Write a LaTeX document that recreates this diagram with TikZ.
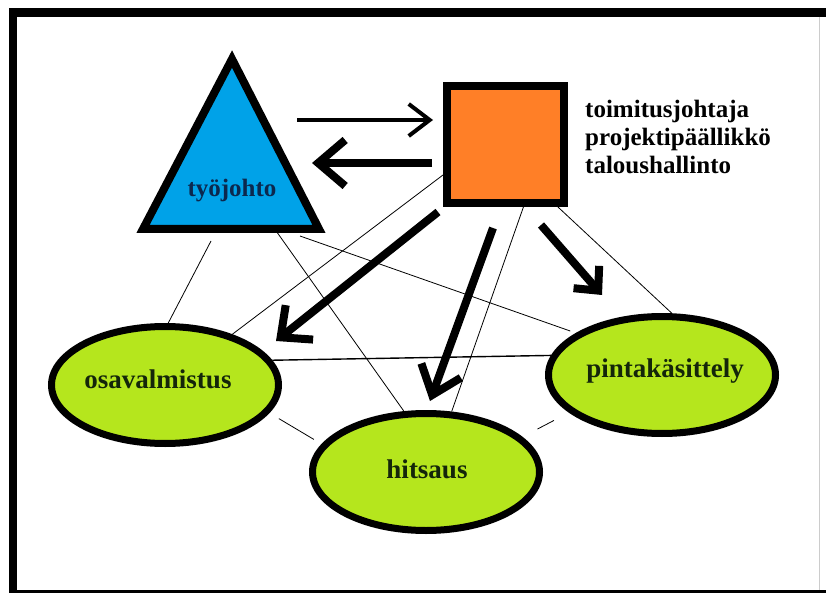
\documentclass[tikz,border=0pt]{standalone}
\usepackage{fontspec}
\setmainfont{Liberation Serif}
\usetikzlibrary{shapes.geometric,arrows.meta}
\definecolor{triblue}{RGB}{0,162,232}
\definecolor{sqorange}{RGB}{255,127,39}
\definecolor{limefill}{RGB}{181,230,29}
\definecolor{greentext}{RGB}{20,38,10}
\definecolor{bluetext}{RGB}{12,40,78}
\begin{document}
\begin{tikzpicture}[x=1pt,y=-1pt,
  lbl/.style={font=\bfseries\fontsize{25}{30}\selectfont, inner sep=0pt},
  ovallbl/.style={font=\bfseries\fontsize{27}{32}\selectfont, inner sep=0pt, text=greentext},
  oval/.style={ellipse, draw=black, line width=7pt, fill=limefill,
    minimum width=227pt, minimum height=117pt, inner sep=0pt},
  thinline/.style={draw=black, line width=0.8pt},
  bigarrow/.style={line width=8pt}
]
\useasboundingbox (0,0) rectangle (826,593);
\fill[white] (0,0) rectangle (826,593);
% frame
\fill[black] (9,8) rectangle (826,17);
\fill[black] (9,8) rectangle (17,593);
\fill[black] (9,590) rectangle (826,593);
\draw[black!20, line width=1pt] (819,17) -- (819,590);

% triangle
\coordinate (ta) at (232,59);
\coordinate (tb) at (143,229);
\coordinate (tc) at (319,229);
\draw[line width=8pt, line join=miter, fill=triblue] (ta) -- (tb) -- (tc) -- cycle;
\node[lbl, text=bluetext, anchor=base] (tyo) at (232,197) {työjohto};

% square
\node[draw=black, line width=8pt, fill=sqorange, minimum size=117pt, inner sep=0pt] (sq) at (505.5,144.5) {};
\node[lbl, anchor=base west] (r1) at (585,118) {toimitusjohtaja};
\node[lbl, anchor=base west] (r2) at (585,146) {projektipäällikkö};
\node[lbl, anchor=base west] (r3) at (585,174) {taloushallinto};

% ellipses
\node[oval] (osa) at (165,385) {};
\node[oval] (hit) at (426,472) {};
\node[oval] (pin) at (662,375) {};
\node[ovallbl, anchor=base] (osat) at (158,388) {osavalmistus};
\node[ovallbl, anchor=base] (hitt) at (427,478) {hitsaus};
\node[ovallbl, anchor=base] (pint) at (665,377) {pintakäsittely};

% thin connectors
\coordinate (t1) at (211,241);
\coordinate (t2) at (274,228);
\coordinate (t3) at (300,236);
\draw[thinline] (t1) -- (osa.87);
\draw[thinline] (t2) -- (hit.110);
\draw[thinline, shorten >=6pt] (t3) -- (pin.154);
\draw[thinline] (sq.206) -- (osa.37);
\draw[thinline] (sq.286) -- (hit.67);
\draw[thinline] (sq.310) -- (pin.81);
\draw[thinline, line width=1.4pt] (osa.13) -- (pin.170);
\draw[thinline, shorten <=11pt, shorten >=9pt] (osa.-15) -- (hit.165);
\draw[thinline, shorten <=17pt, shorten >=17pt] (pin.202) -- (hit.20);

% arrows
\coordinate (a1s) at (297,120);
\coordinate (a1e) at (433,120);
\coordinate (a2s) at (432,163);
\coordinate (a2e) at (312,163);
\coordinate (a3s) at (438,212);
\coordinate (a3e) at (276,341);
\coordinate (a4s) at (493,228);
\coordinate (a4e) at (430,401);
\coordinate (a5s) at (541,225);
\coordinate (a5e) at (602,295);
\draw[line width=4pt, -{Straight Barb[length=21pt,width=32pt]}] (a1s) -- (a1e);
\draw[bigarrow, -{Straight Barb[length=27pt,width=46pt]}] (a2s) -- (a2e);
\draw[bigarrow, -{Straight Barb[length=24pt,width=44pt]}] (a3s) -- (a3e);
\draw[bigarrow, -{Straight Barb[length=26pt,width=42pt]}] (a4s) -- (a4e);
\draw[bigarrow, -{Straight Barb[length=18pt,width=34pt]}] (a5s) -- (a5e);
\end{tikzpicture}
\end{document}
